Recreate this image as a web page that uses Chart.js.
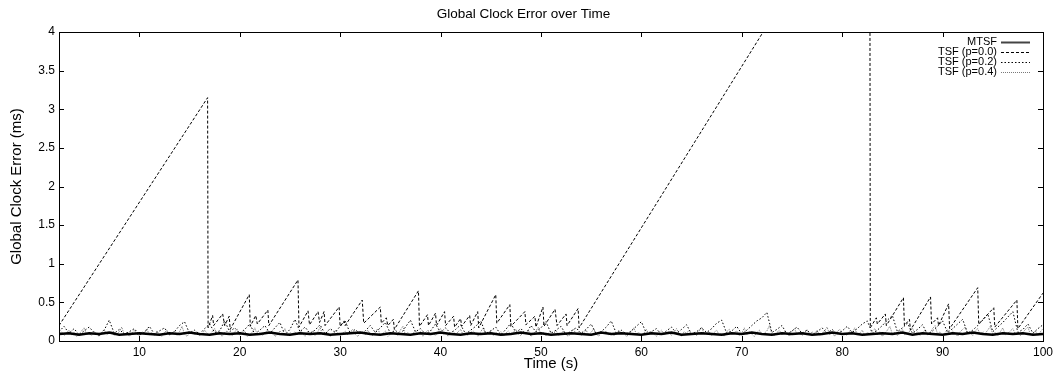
<!DOCTYPE html>
<html>
<head>
<meta charset="utf-8">
<script src="https://cdn.jsdelivr.net/npm/chart.js@4.4.0/dist/chart.umd.min.js"></script>
<style>
html,body{margin:0;padding:0;background:#fff;}
</style>
</head>
<body>
<canvas id="clockChart" width="1057" height="373"></canvas>
<script>
// TSF (p=0.0): sawtooth as [time, error] corners
const tsf00 = [
  [2.0,0.20],[16.8,3.15],[16.85,0.17],[17.3,0.33],[17.4,0.20],[18.3,0.35],[18.5,0.20],[18.95,0.32],[19.05,0.15],
  [20.95,0.60],[21.05,0.19],[21.6,0.33],[21.75,0.22],[22.8,0.40],[22.9,0.20],[25.8,0.79],[25.9,0.18],
  [26.8,0.39],[26.95,0.21],[27.8,0.38],[27.95,0.24],[28.4,0.38],[28.5,0.20],[29.9,0.44],[30.0,0.19],
  [30.4,0.26],[30.5,0.20],[32.2,0.53],[32.35,0.23],[34.0,0.44],[34.1,0.23],[34.6,0.30],[34.75,0.20],
  [35.3,0.28],[35.4,0.15],[37.8,0.65],[37.9,0.19],[38.7,0.34],[38.8,0.20],[39.5,0.36],[39.6,0.20],
  [40.4,0.38],[40.5,0.20],[41.3,0.32],[41.4,0.18],[42.0,0.29],[42.1,0.19],[42.9,0.33],[43.0,0.20],
  [43.7,0.38],[43.8,0.17],[45.5,0.60],[45.6,0.23],[46.9,0.47],[47.0,0.19],[48.4,0.38],[48.5,0.21],
  [49.4,0.32],[49.5,0.18],[50.2,0.44],[50.3,0.19],[51.4,0.41],[51.6,0.20],[52.5,0.35],[52.6,0.20],
  [53.7,0.42],[53.8,0.17],[82.75,6.22],[82.8,0.17],[83.4,0.30],[83.5,0.22],[84.3,0.35],[84.4,0.20],
  [86.1,0.56],[86.2,0.20],[86.7,0.28],[86.8,0.14],[88.8,0.57],[88.9,0.22],[89.5,0.30],[89.6,0.20],
  [90.6,0.48],[90.7,0.16],[93.5,0.69],[93.6,0.22],[95.1,0.43],[95.2,0.18],[97.4,0.53],[97.5,0.16],[100,0.62]
];

// TSF (p=0.2), sampled every 0.5 s from 2 s
const tsf02 = [
  0.12,0.19,0.1,0.16,0.08,0.13,0.18,0.11,0.07,0.14,0.27,0.1,0.15,0.09,0.12,0.16,0.08,0.11,0.19,0.09,
  0.13,0.17,0.08,0.12,0.2,0.25,0.1,0.14,0.09,0.16,0.22,0.11,0.13,0.26,0.12,0.17,0.1,0.15,0.22,0.09,
  0.14,0.2,0.1,0.17,0.24,0.08,0.15,0.28,0.12,0.18,0.1,0.14,0.21,0.09,0.16,0.11,0.19,0.26,0.1,0.15,
  0.09,0.13,0.2,0.11,0.17,0.24,0.1,0.14,0.08,0.18,0.27,0.12,0.16,0.09,0.13,0.22,0.11,0.17,0.1,0.15,
  0.21,0.09,0.14,0.19,0.26,0.1,0.13,0.18,0.08,0.15,0.23,0.11,0.16,0.09,0.2,0.12,0.17,0.25,0.1,0.14,
  0.19,0.08,0.13,0.17,0.1,0.15,0.22,0.09,0.12,0.18,0.26,0.1,0.14,0.09,0.13,0.19,0.25,0.1,0.12,0.16,
  0.08,0.13,0.18,0.1,0.15,0.21,0.09,0.12,0.17,0.11,0.16,0.23,0.27,0.1,0.13,0.19,0.09,0.14,0.2,0.26,
  0.3,0.37,0.11,0.15,0.2,0.09,0.13,0.18,0.1,0.14,0.08,0.12,0.17,0.1,0.15,0.09,0.13,0.19,0.11,0.16,
  0.22,0.26,0.1,0.14,0.2,0.27,0.33,0.12,0.17,0.23,0.1,0.15,0.21,0.09,0.13,0.19,0.26,0.11,0.16,0.22,
  0.28,0.1,0.14,0.2,0.27,0.35,0.12,0.18,0.24,0.31,0.38,0.11,0.15,0.22,0.1,0.16,0.21
];

// TSF (p=0.4), sampled every 0.25 s from 2 s
const tsf04 = [
  0.09,0.12,0.07,0.1,0.14,0.08,0.11,0.06,0.09,0.13,0.17,0.08,0.1,0.07,0.12,0.09,0.06,0.11,0.15,0.08,
  0.1,0.13,0.07,0.09,0.12,0.18,0.08,0.11,0.06,0.1,0.14,0.09,0.07,0.12,0.1,0.16,0.08,0.11,0.07,0.13,
  0.09,0.06,0.11,0.14,0.08,0.1,0.13,0.07,0.12,0.19,0.09,0.06,0.1,0.13,0.08,0.11,0.07,0.09,0.14,0.1,
  0.07,0.12,0.16,0.08,0.1,0.06,0.11,0.13,0.09,0.07,0.12,0.15,0.08,0.1,0.13,0.06,0.09,0.11,0.17,0.08,
  0.11,0.07,0.1,0.14,0.09,0.12,0.06,0.08,0.13,0.1,0.16,0.07,0.11,0.09,0.12,0.08,0.14,0.1,0.06,0.12,
  0.09,0.13,0.07,0.11,0.18,0.08,0.1,0.12,0.06,0.09,0.14,0.11,0.07,0.1,0.13,0.08,0.12,0.15,0.09,0.06,
  0.1,0.12,0.08,0.14,0.09,0.07,0.11,0.16,0.08,0.1,0.13,0.06,0.09,0.12,0.1,0.07,0.14,0.19,0.08,0.11,
  0.07,0.1,0.13,0.09,0.12,0.06,0.11,0.14,0.08,0.1,0.07,0.12,0.16,0.09,0.11,0.06,0.1,0.13,0.08,0.12,
  0.15,0.08,0.1,0.07,0.11,0.13,0.09,0.06,0.12,0.17,0.08,0.1,0.14,0.07,0.11,0.09,0.12,0.06,0.1,0.13,
  0.08,0.11,0.15,0.09,0.07,0.12,0.1,0.14,0.06,0.09,0.13,0.18,0.08,0.11,0.07,0.1,0.12,0.09,0.14,0.07,
  0.1,0.13,0.08,0.06,0.11,0.15,0.09,0.12,0.07,0.1,0.14,0.08,0.11,0.16,0.09,0.06,0.12,0.1,0.13,0.08,
  0.11,0.07,0.09,0.14,0.1,0.12,0.06,0.08,0.13,0.17,0.09,0.11,0.07,0.1,0.15,0.08,0.12,0.09,0.06,0.11,
  0.14,0.08,0.1,0.13,0.07,0.11,0.16,0.09,0.06,0.12,0.1,0.14,0.08,0.11,0.07,0.13,0.18,0.09,0.1,0.12,
  0.07,0.11,0.14,0.08,0.1,0.06,0.12,0.15,0.09,0.11,0.13,0.07,0.1,0.17,0.08,0.12,0.09,0.06,0.11,0.14,
  0.08,0.1,0.13,0.2,0.09,0.07,0.11,0.14,0.08,0.12,0.1,0.06,0.13,0.16,0.09,0.11,0.07,0.1,0.15,0.08,
  0.12,0.09,0.14,0.07,0.1,0.13,0.18,0.08,0.11,0.06,0.12,0.15,0.09,0.1,0.07,0.13,0.11,0.17,0.08,0.1,
  0.14,0.07,0.11,0.09,0.13,0.16,0.08,0.12,0.06,0.1,0.14,0.19,0.09,0.11,0.07,0.12,0.15,0.08,0.1,0.13,
  0.17,0.09,0.12,0.07,0.11,0.14,0.08,0.1,0.16,0.2,0.09,0.12,0.07,0.11,0.15,0.08,0.13,0.1,0.06,0.12,
  0.15,0.18,0.09,0.11,0.07,0.13,0.16,0.08,0.12,0.1,0.14,0.19,0.09,0.11,0.07,0.12,0.17,0.08,0.1,0.13,
  0.16,0.09,0.12,0.07,0.11,0.15,0.18,0.08,0.1,0.13,0.07,0.12,0.16
];

// MTSF, sampled every 1 s from 2 s
const mtsf = [
  0.09,0.1,0.08,0.1,0.09,0.11,0.08,0.09,0.1,0.09,0.08,0.1,0.09,0.11,0.09,0.08,0.1,0.09,0.1,0.08,
  0.09,0.11,0.09,0.08,0.1,0.09,0.1,0.08,0.09,0.1,0.11,0.09,0.08,0.1,0.09,0.08,0.1,0.09,0.11,0.09,
  0.08,0.1,0.09,0.1,0.08,0.09,0.11,0.09,0.1,0.08,0.09,0.1,0.09,0.08,0.11,0.09,0.1,0.09,0.08,0.1,
  0.09,0.11,0.08,0.09,0.1,0.09,0.08,0.1,0.09,0.11,0.09,0.08,0.1,0.09,0.1,0.08,0.09,0.11,0.09,0.1,
  0.08,0.09,0.1,0.09,0.11,0.08,0.1,0.09,0.08,0.1,0.09,0.11,0.09,0.08,0.1,0.09,0.1,0.08,0.09
];

const seriesNames = ['MTSF', 'TSF (p=0.0)', 'TSF (p=0.2)', 'TSF (p=0.4)'];
const yTicks = [0, 0.5, 1, 1.5, 2, 2.5, 3, 3.5, 4];
const xTicks = [10, 20, 30, 40, 50, 60, 70, 80, 90, 100];

const FONT = '"Liberation Sans", Arial, sans-serif';

function sampled(vals, t0, step) {
  return vals.map((v, i) => ({x: t0 + i * step, y: v}));
}

const frameTicks = {
  id: 'frameTicks',
  afterDatasetsDraw(chart) {
    const ctx = chart.ctx, a = chart.chartArea;
    const xs = chart.scales.x, ys = chart.scales.y;
    ctx.save();
    ctx.strokeStyle = '#000';
    ctx.lineWidth = 1;
    ctx.setLineDash([]);
    ctx.strokeRect(Math.round(a.left) + 0.5, Math.round(a.top) + 0.5,
      Math.round(a.right - a.left), Math.round(a.bottom - a.top));
    ctx.beginPath();
    xs.ticks.forEach(t => {
      const px = Math.round(xs.getPixelForValue(t.value)) + 0.5;
      ctx.moveTo(px, a.bottom); ctx.lineTo(px, a.bottom - 5);
      ctx.moveTo(px, a.top); ctx.lineTo(px, a.top + 5);
    });
    ys.ticks.forEach(t => {
      const py = Math.round(ys.getPixelForValue(t.value)) + 0.5;
      ctx.moveTo(a.left, py); ctx.lineTo(a.left + 5, py);
      ctx.moveTo(a.right, py); ctx.lineTo(a.right - 5, py);
    });
    ctx.stroke();

    // gnuplot style key: text right aligned, sample to its right
    ctx.font = '11px ' + FONT;
    ctx.fillStyle = '#000';
    ctx.textAlign = 'right';
    ctx.textBaseline = 'middle';
    chart.data.datasets.forEach((ds, i) => {
      const y = a.top + 10 + i * 10;
      ctx.fillText(ds.label, a.right - 46, y);
      ctx.beginPath();
      ctx.strokeStyle = i === 0 ? '#444' : ds.borderColor;
      ctx.lineWidth = i === 0 ? 2 : ds.borderWidth;
      ctx.setLineDash(ds.borderDash || []);
      ctx.moveTo(a.right - 42, Math.round(y) + 0.5);
      ctx.lineTo(a.right - 13, Math.round(y) + 0.5);
      ctx.stroke();
    });
    ctx.restore();
  }
};

const ctx = document.getElementById('clockChart');
new Chart(ctx, {
  type: 'line',
  data: {
    datasets: [
      {label: seriesNames[0], data: sampled(mtsf, 2, 1), borderColor: '#000', borderWidth: 2.5, borderDash: []},
      {label: seriesNames[1], data: tsf00.map(p => ({x: p[0], y: p[1]})), borderColor: '#000', borderWidth: 1, borderDash: [3, 2]},
      {label: seriesNames[2], data: sampled(tsf02, 2, 0.5), borderColor: '#000', borderWidth: 1, borderDash: [1.5, 2]},
      {label: seriesNames[3], data: sampled(tsf04, 2, 0.25), borderColor: '#777', borderWidth: 1, borderDash: [1, 1]}
    ]
  },
  options: {
    responsive: false,
    animation: false,
    devicePixelRatio: 1,
    layout: {padding: {left: 0, right: 10, top: 0, bottom: 0}},
    elements: {point: {radius: 0}, line: {tension: 0}},
    plugins: {
      legend: {display: false},
      tooltip: {enabled: false},
      title: {
        display: true,
        text: 'Global Clock Error over Time',
        color: '#000',
        font: {family: FONT, size: 13.5, weight: 'normal'},
        padding: {top: 6, bottom: 9.8}
      }
    },
    scales: {
      x: {
        type: 'linear',
        min: 2,
        max: 100,
        afterBuildTicks: s => { s.ticks = xTicks.map(v => ({value: v})); },
        afterFit: s => { s.height = 32; },
        grid: {display: false, drawTicks: false},
        border: {display: false},
        ticks: {color: '#000', padding: 4, maxRotation: 0, callback: v => String(v),
          font: {family: FONT, size: 12}},
        title: {display: true, text: 'Time (s)', color: '#000',
          font: {family: FONT, size: 15},
          padding: {top: 0, bottom: 0}}
      },
      y: {
        min: 0,
        max: 4,
        afterBuildTicks: s => { s.ticks = yTicks.map(v => ({value: v})); },
        afterFit: s => { s.width = 59; },
        grid: {display: false, drawTicks: false},
        border: {display: false},
        ticks: {color: '#000', padding: 4, callback: v => String(v),
          font: {family: FONT, size: 12}},
        title: {display: true, text: 'Global Clock Error (ms)', color: '#000',
          font: {family: FONT, size: 15},
          padding: {top: 8, bottom: 0}}
      }
    }
  },
  plugins: [frameTicks]
});
</script>
</body>
</html>
